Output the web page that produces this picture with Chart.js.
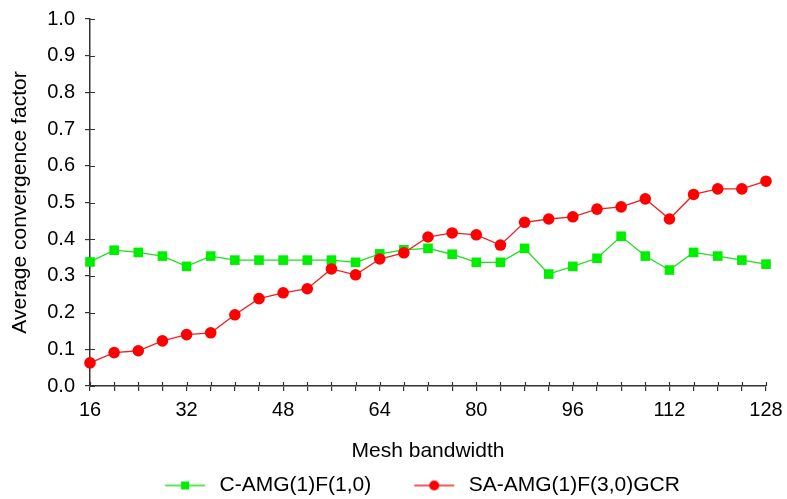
<!DOCTYPE html>
<html>
<head>
<meta charset="utf-8">
<script src="https://cdn.jsdelivr.net/npm/chart.js@4/dist/chart.umd.min.js"></script>
<style>
  html, body { margin: 0; padding: 0; background: #fff; }
  #wrap { width: 787px; height: 499px; }
</style>
</head>
<body>
<div id="wrap"><canvas id="chart" width="787" height="499"></canvas></div>
<script>
// mesh bandwidth values (x)
const bandwidth = [16, 20, 24, 28, 32, 36, 40, 44, 48, 52, 56, 60, 64, 68, 72, 76, 80,
  84, 88, 92, 96, 100, 104, 108, 112, 116, 120, 124, 128];

// C-AMG(1)F(1,0)
const camg = [0.338, 0.370, 0.364, 0.354, 0.326, 0.354, 0.343, 0.343, 0.343, 0.343, 0.343,
  0.337, 0.360, 0.371, 0.375, 0.359, 0.337, 0.337, 0.375, 0.305, 0.326, 0.348, 0.408,
  0.354, 0.316, 0.364, 0.354, 0.343, 0.332];

// SA-AMG(1)F(3,0)GCR
const saamg = [0.063, 0.091, 0.096, 0.123, 0.140, 0.145, 0.194, 0.238, 0.254, 0.265, 0.319,
  0.303, 0.346, 0.363, 0.406, 0.417, 0.412, 0.384, 0.446, 0.455, 0.461, 0.482, 0.488,
  0.510, 0.455, 0.522, 0.537, 0.537, 0.558];

const seriesNames = ['C-AMG(1)F(1,0)', 'SA-AMG(1)F(3,0)GCR'];

const FONT = '"Liberation Sans", Arial, sans-serif';
const AXIS = '#333';

// legend icon: short line with the marker on it (blank on the left = gap between items)
function legendIcon(lineColor, color, shape) {
  const c = document.createElement('canvas');
  c.width = 77; c.height = 14;
  const g = c.getContext('2d');
  g.strokeStyle = lineColor; g.lineWidth = 1.5;
  g.beginPath(); g.moveTo(33, 7); g.lineTo(73, 7); g.stroke();
  g.fillStyle = color;
  if (shape === 'rect') g.fillRect(49, 3, 8, 8);
  else { g.beginPath(); g.arc(53, 7, 5, 0, Math.PI * 2); g.fill(); }
  return c;
}

// tick marks cross the axis: draw the inner half
const innerTicks = {
  id: 'innerTicks',
  afterDraw(chart) {
    const { ctx, scales: { x, y } } = chart;
    ctx.save();
    ctx.strokeStyle = AXIS;
    ctx.lineWidth = 1.2;
    ctx.beginPath();
    x.ticks.forEach(t => {
      const px = Math.round(x.getPixelForValue(t.value)) + 0.5;
      ctx.moveTo(px, x.top); ctx.lineTo(px, x.top - 4);
    });
    y.ticks.forEach(t => {
      const py = Math.round(y.getPixelForValue(t.value)) + 0.5;
      ctx.moveTo(y.right, py); ctx.lineTo(y.right + 5, py);
    });
    ctx.stroke();
    ctx.restore();
  }
};

const toPoints = ys => bandwidth.map((x, i) => ({ x, y: ys[i] }));

new Chart(document.getElementById('chart'), {
  type: 'line',
  data: {
    datasets: [{
      label: seriesNames[0],
      data: toPoints(camg),
      borderColor: '#1ee01e',
      backgroundColor: '#00ee00',
      borderWidth: 1.3,
      pointStyle: 'rect',
      pointRadius: 6.8,
      pointBorderWidth: 0,
      tension: 0,
      clip: false,
      order: 1
    }, {
      label: seriesNames[1],
      data: toPoints(saamg),
      borderColor: '#f02020',
      backgroundColor: '#ff0000',
      borderWidth: 1.3,
      pointStyle: 'circle',
      pointRadius: 5.8,
      pointBorderWidth: 0,
      tension: 0,
      clip: false,
      order: 0
    }]
  },
  plugins: [innerTicks],
  options: {
    responsive: false,
    animation: false,
    layout: { padding: { top: 19, right: 21, left: 46, bottom: -7 } },
    plugins: {
      tooltip: { enabled: false },
      legend: {
        position: 'bottom',
        labels: {
          usePointStyle: true,
          pointStyleWidth: 77,
          color: '#000',
          font: { family: FONT, size: 21 },
          padding: 10,
          generateLabels(chart) {
            return chart.data.datasets.map((ds, i) => ({
              text: ds.label,
              pointStyle: legendIcon(ds.borderColor, ds.backgroundColor, ds.pointStyle),
              fillStyle: ds.backgroundColor,
              strokeStyle: ds.borderColor,
              lineWidth: 0,
              fontColor: '#000',
              datasetIndex: i
            }));
          }
        }
      }
    },
    scales: {
      x: {
        type: 'linear',
        min: 16,
        max: 128,
        afterFit: s => { s.height = 79; s.paddingLeft = 0; s.paddingRight = 0; },
        border: { color: AXIS, width: 1.5 },
        grid: { drawOnChartArea: false, color: AXIS, tickLength: 5, lineWidth: 1.2 },
        ticks: {
          stepSize: 4,
          autoSkip: false,
          maxRotation: 0,
          color: '#000',
          padding: 7,
          font: { family: FONT, size: 20 },
          callback: v => (v % 16 === 0 ? String(v) : '')
        },
        title: {
          display: true,
          text: 'Mesh bandwidth',
          color: '#000',
          font: { family: FONT, size: 21 },
          padding: { top: 0, bottom: 1 }
        }
      },
      y: {
        min: 0,
        max: 1,
        afterFit: s => { s.width = 44; s.paddingTop = 0; s.paddingBottom = 0; },
        border: { color: AXIS, width: 1.5 },
        grid: { drawOnChartArea: false, color: AXIS, tickLength: 5, lineWidth: 1.2 },
        ticks: {
          stepSize: 0.1,
          color: '#000',
          padding: 10,
          font: { family: FONT, size: 20 },
          callback: v => v.toFixed(1)
        },
        title: {
          display: true,
          text: 'Average convergence factor',
          color: '#000',
          font: { family: FONT, size: 21 },
          padding: { top: -38, bottom: 0 }
        }
      }
    }
  }
});
</script>
</body>
</html>
